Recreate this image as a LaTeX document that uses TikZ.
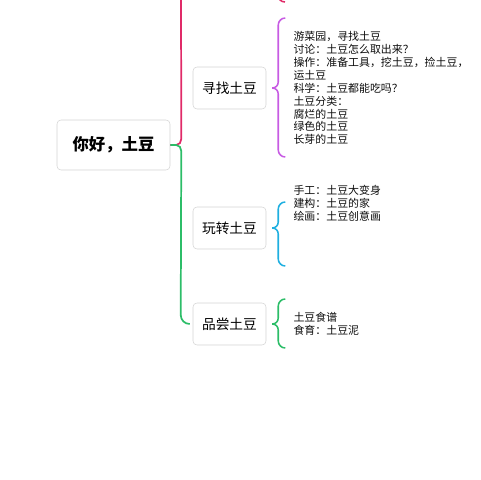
\documentclass[tikz,border=0pt]{standalone}
\usepackage{fontspec}
\newfontfamily\cjk{Noto Sans CJK SC}
\usetikzlibrary{positioning, calc}
\definecolor{rootpink}{HTML}{E02A68}
\definecolor{xzcol}{HTML}{C75BE3}
\definecolor{wzcol}{HTML}{1FAFE0}
\definecolor{pccol}{HTML}{2CBD68}

\begin{document}
\begin{tikzpicture}[
  x=0.75pt, y=0.75pt,
  font=\cjk,
  topic/.style={draw=black!17, fill=white, rounded corners=3pt, minimum width=54.75pt,
    minimum height=31.5pt, font=\cjk\fontsize{10.3}{12}\selectfont},
  notes/.style={align=left, inner sep=0pt, text=black!95, font=\cjk\fontsize{8.2}{9.7}\selectfont},
  stem/.style={line width=1.3pt},
  brace/.style={line width=1.15pt},
]
\useasboundingbox (0,0) rectangle (480,480);
\clip (0,0) rectangle (480,480);

% --- central topic and its three branches
\node[topic, minimum width=84.75pt, minimum height=37.5pt,
  font=\cjk\bfseries\fontsize{12.3}{14}\selectfont] (root) at (113.5,335) {你好，土豆};
\node[topic] (xz) at (229.5,392) {寻找土豆};
\node[topic] (wz) at (229.5,252) {玩转土豆};
\node[topic] (pc) at (229.5,156) {品尝土豆};

% --- notes beside each branch
\node[notes, anchor=west] (xzn) at ($(xz.east)+(27,0)$)
  {游菜园，寻找土豆\\讨论：土豆怎么取出来？\\操作：准备工具，挖土豆，捡土豆，\\运土豆\\科学：土豆都能吃吗？\\土豆分类：\\腐烂的土豆\\绿色的土豆\\长芽的土豆};
\node[notes, anchor=west] (wzn) at ($(wz.east)+(27,25)$)
  {手工：土豆大变身\\建构：土豆的家\\绘画：土豆创意画};
\node[notes, anchor=west] (pcn) at ($(pc.east)+(27,0)$)
  {土豆食谱\\食育：土豆泥};

% --- stems out of the central topic (upper one runs off the page)
\coordinate (up) at (181,500);
\draw[stem, rootpink] (root.east) -- ++(6,0) to[out=0,in=-90] ++(5,6) -- (up);
\draw[stem, pccol] (root.east) -- ++(6,0) to[out=0,in=90] ++(5,-6)
  -- ($(pc.west)+(-12,9)$) to[out=-90,in=180] ($(pc.west)+(-3,0)$);

% --- end of the brace above the page
\coordinate (prev) at (278,500);
\draw[brace, rootpink] (prev) -- (278,485) to[out=-90,in=180] (285,478);

% --- braces from each branch to its notes
\draw[brace, xzcol] ($(xz.east)+(6,0)$) to[out=0,in=-90] ++(6,6) -- ++(0,57) to[out=90,in=180] ++(7,7);
\draw[brace, xzcol] ($(xz.east)+(6,0)$) to[out=0,in=90] ++(6,-6) -- ++(0,-56) to[out=-90,in=180] ++(7,-7);
\draw[brace, wzcol] ($(wz.east)+(6,0)$) to[out=0,in=-90] ++(6,6) -- ++(0,13) to[out=90,in=180] ++(7,7);
\draw[brace, wzcol] ($(wz.east)+(6,0)$) to[out=0,in=90] ++(6,-6) -- ++(0,-25) to[out=-90,in=180] ++(7,-7);
\draw[brace, pccol] ($(pc.east)+(6,0)$) to[out=0,in=-90] ++(6,6) -- ++(0,12) to[out=90,in=180] ++(7,7);
\draw[brace, pccol] ($(pc.east)+(6,0)$) to[out=0,in=90] ++(6,-6) -- ++(0,-11) to[out=-90,in=180] ++(7,-7);

\end{tikzpicture}
\end{document}
